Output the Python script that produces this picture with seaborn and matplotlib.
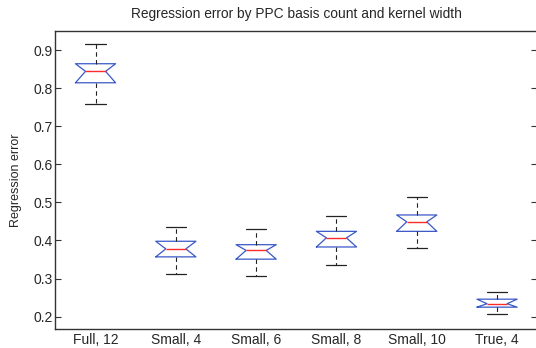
import matplotlib
matplotlib.use("Agg")
import matplotlib.pyplot as plt
import seaborn as sns

# five-number summaries (notched boxplot)
labels = ["Full, 12", "Small, 4", "Small, 6", "Small, 8", "Small, 10", "True, 4"]
whisker_lo = [0.757, 0.311, 0.307, 0.336, 0.380, 0.207]
q1 = [0.814, 0.357, 0.351, 0.383, 0.424, 0.225]
median = [0.844, 0.378, 0.374, 0.407, 0.449, 0.234]
q3 = [0.864, 0.398, 0.389, 0.424, 0.467, 0.246]
whisker_hi = [0.915, 0.435, 0.430, 0.465, 0.514, 0.266]

sns.set_theme(style="ticks")
plt.rcParams["font.family"] = ["Liberation Sans", "DejaVu Sans"]

# build stats for bxp; notch reaches the box edges like the MATLAB plot
stats = []
for i in range(len(labels)):
    stats.append({
        "label": labels[i],
        "whislo": whisker_lo[i], "q1": q1[i], "med": median[i],
        "q3": q3[i], "whishi": whisker_hi[i],
        "cilo": q1[i], "cihi": q3[i], "fliers": [],
    })

fig = plt.figure(figsize=(5.36, 3.48), dpi=100)
ax = fig.add_axes([0.1033, 0.0555, 0.899, 0.8555])

ax.bxp(stats, positions=range(1, len(labels) + 1), widths=0.5, shownotches=True,
       boxprops=dict(color="#3a58c8", linewidth=0.9),
       medianprops=dict(color="#ff2a2a", linewidth=1.0),
       whiskerprops=dict(color="#222222", linewidth=0.8, linestyle=(0, (4, 3))),
       capprops=dict(color="#222222", linewidth=0.9),
       capwidths=0.25, manage_ticks=False)

ax.set_xlim(0.5, 6.5)
ax.set_ylim(0.1685, 0.95)
ax.set_xticks(range(1, len(labels) + 1))
ax.set_xticklabels(labels)
ax.set_yticks([0.2, 0.3, 0.4, 0.5, 0.6, 0.7, 0.8, 0.9])
ax.tick_params(axis="y", direction="in", length=4, width=0.8, right=True,
               labelsize=10, color="#333333", pad=2)
ax.tick_params(axis="x", length=0, labelsize=10, pad=3)

for s in ax.spines.values():
    s.set_color("#333333")
    s.set_linewidth(1.0)

ax.set_ylabel("Regression error", fontsize=9, labelpad=8)
ax.set_title("Regression error by PPC basis count and kernel width", fontsize=9.9, pad=9)

plt.savefig("out.png", dpi=100)
